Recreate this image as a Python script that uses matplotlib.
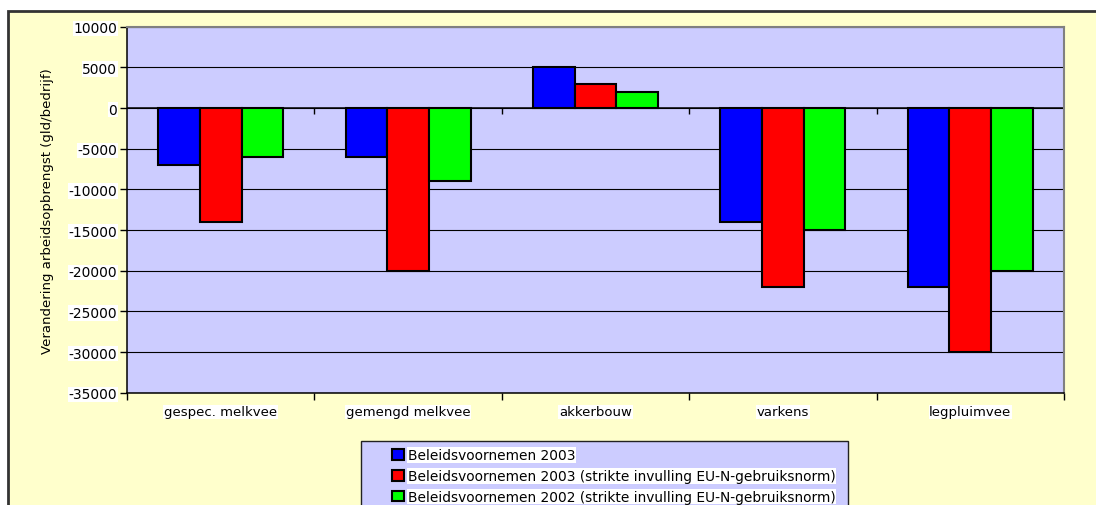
import numpy as np
import matplotlib
matplotlib.use('Agg')
import matplotlib.pyplot as plt
from matplotlib.patches import Patch, Rectangle

categories = ['gespec. melkvee', 'gemengd melkvee', 'akkerbouw', 'varkens', 'legpluimvee']
series_names = [
	'Beleidsvoornemen 2003',
	'Beleidsvoornemen 2003 (strikte invulling EU-N-gebruiksnorm)',
	'Beleidsvoornemen 2002 (strikte invulling EU-N-gebruiksnorm)',
]
beleid_2003 = [-7000, -6000, 5000, -14000, -22000]
beleid_2003_strikt = [-14000, -20000, 3000, -22000, -30000]
beleid_2002_strikt = [-6000, -9000, 2000, -15000, -20000]
series_colors = ['#0000FF', '#FF0000', '#00FF00']
y_ticks = list(range(-35000, 10001, 5000))

plt.rcParams['font.family'] = ['DejaVu Sans']
plt.rcParams['axes.unicode_minus'] = False

W, H = 1096, 506
fig = plt.figure(figsize=(W / 100, H / 100), dpi=100, facecolor='white')

# chart area (yellow), border runs off the right/bottom of the picture
fig.patches.append(Rectangle((8 / W, -0.1), 1.2, 1 - 12 / H + 0.1, transform=fig.transFigure,
							 facecolor='#FFFFCC', edgecolor='#333333', lw=2, zorder=-2))

ax = fig.add_axes([127 / W, 1 - 393.7 / H, (1064 - 127) / W, (393.7 - 27.7) / H])
ax.set_facecolor('#CCCCFF')

x = np.arange(len(categories))
bw = 0.222
all_series = [beleid_2003, beleid_2003_strikt, beleid_2002_strikt]
for i, (vals, col) in enumerate(zip(all_series, series_colors)):
	ax.bar(x + (i - 1) * bw, vals, width=bw, color=col, edgecolor='black', lw=1.5, zorder=3)

ax.set_xlim(-0.5, len(categories) - 0.5)
ax.set_ylim(-35000, 10000)
ax.set_yticks(y_ticks)
ax.set_yticklabels([str(v) for v in y_ticks], fontsize=10)
for lbl in ax.get_yticklabels():
	lbl.set_bbox(dict(facecolor='white', edgecolor='none', pad=0.5))
ax.tick_params(axis='y', length=5, width=1, pad=2, direction='out')
ax.grid(axis='y', color='black', lw=0.8, zorder=1)
ax.set_axisbelow(True)
ax.axhline(0, color='black', lw=1.1, zorder=2)

bounds = np.arange(len(categories) + 1) - 0.5
ax.set_xticks(bounds)
ax.set_xticklabels([])
ax.tick_params(axis='x', which='major', length=5, width=1, direction='out')
ax.set_xticks(x, minor=True)
ax.set_xticklabels(categories, minor=True, fontsize=9.5)
ax.tick_params(axis='x', which='minor', length=0, pad=9)
for lbl in ax.get_xticklabels(minor=True):
	lbl.set_bbox(dict(facecolor='white', edgecolor='none', pad=0.5))
# little tick marks hanging under the zero line
ax.vlines(bounds[1:-1], -700, 0, colors='black', lw=1, zorder=2)

for s in ['left', 'bottom']:
	ax.spines[s].set_color('black')
	ax.spines[s].set_linewidth(1.1)
for s in ['top', 'right']:
	ax.spines[s].set_color('#808080')
	ax.spines[s].set_linewidth(1.5)

ax.set_ylabel('Verandering arbeidsopbrengst (gld/bedrijf)', fontsize=9.5)
ax.yaxis.set_label_coords((54 - 127) / 937, 0.5)

# legend box
fig.patches.append(Rectangle((361 / W, -0.1), (848 - 361) / W, 1 - 442 / H + 0.1, transform=fig.transFigure,
							 facecolor='#CCCCFF', edgecolor='#222222', lw=1, zorder=-1))
handles = [Patch(facecolor=c, edgecolor='black', lw=1.5) for c in series_colors]
leg = fig.legend(handles, series_names, loc='upper left', bbox_to_anchor=(392 / W, 1 - 449 / H),
				 frameon=False, fontsize=9.9, borderpad=0, borderaxespad=0, labelspacing=0.5,
				 handlelength=0.85, handleheight=0.85, handletextpad=0.3)
for t in leg.get_texts():
	t.set_bbox(dict(facecolor='white', edgecolor='none', pad=0.5))

fig.savefig('out.png', dpi=100, facecolor='white')
